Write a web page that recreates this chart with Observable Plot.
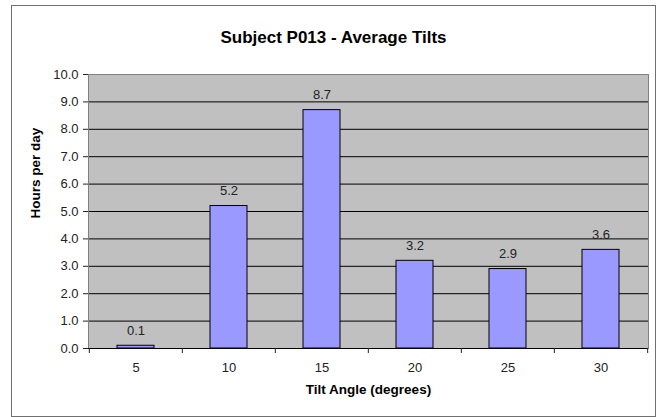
<!DOCTYPE html>
<html><head><meta charset="utf-8">
<script src="https://cdn.jsdelivr.net/npm/d3@7"></script>
<script src="https://cdn.jsdelivr.net/npm/@observablehq/plot@0.6"></script>
<style>
body{margin:0;background:#fff;}
#wrap{position:relative;width:659px;height:417px;}
#border{position:absolute;left:11px;top:5px;width:643px;height:410px;border:1px solid #707070;pointer-events:none;}
svg{position:absolute;left:0;top:0;}
</style></head><body><div id="wrap"><div id="border"></div></div>
<script>
const angles = ["5", "10", "15", "20", "25", "30"];
const hours = [0.1, 5.2, 8.7, 3.2, 2.9, 3.6];
const yTicks = [0, 1, 2, 3, 4, 5, 6, 7, 8, 9, 10];
const gridTicks = [1, 2, 3, 4, 5, 6, 7, 8, 9];
const titleText = "Subject P013 - Average Tilts";
const xTitle = "Tilt Angle (degrees)";
const yTitle = "Hours per day";

const data = angles.map((a, i) => ({angle: a, hours: hours[i]}));
const W = 659, H = 417, mL = 88, mR = 11, mT = 74, mB = 69;
const step = (W - mL - mR) / angles.length;
const font = "Liberation Sans, Arial, sans-serif";

const chart = Plot.plot({
  width: W, height: H,
  marginLeft: mL, marginRight: mR, marginTop: mT, marginBottom: mB,
  style: {fontFamily: font, background: "transparent", color: "#222"},
  x: {type: "band", domain: angles, paddingInner: 0.6, paddingOuter: 0.3, label: null},
  y: {domain: [0, 10], label: null},
  marks: [
    Plot.frame({fill: "#c0c0c0", stroke: "none"}),
    Plot.gridY(gridTicks, {stroke: "#000", strokeOpacity: 1, strokeWidth: 1}),
    Plot.frame({stroke: "#808080"}),
    Plot.barY(data, {x: "angle", y: "hours", fill: "#9999ff", stroke: "#000", strokeWidth: 1}),
    Plot.ruleY([0], {stroke: "#000"}),
    Plot.axisY({ticks: yTicks, tickFormat: d3.format(".1f"), tickSize: 5, tickPadding: 5, fontSize: 13, stroke: "#222", label: null}),
    Plot.axisX({tickSize: 0, tickPadding: 14, fontSize: 13, label: null}),
    Plot.ruleX(angles, {x: d => d, y1: 0, y2: 0, dx: -step / 2, insetBottom: -5, stroke: "#222"}),
    Plot.ruleX(angles.slice(-1), {x: d => d, y1: 0, y2: 0, dx: step / 2, insetBottom: -5, stroke: "#222"}),
    Plot.text(data, {x: "angle", y: "hours", text: d => d3.format(".1f")(d.hours), dy: -15, fontSize: 13, fill: "#222"}),
    Plot.text([titleText], {frameAnchor: "top", dx: -35, dy: -44, fontSize: 17, fontWeight: "bold", fill: "#000"}),
    Plot.text([xTitle], {frameAnchor: "bottom", dy: 45, fontSize: 13.5, fontWeight: "bold", fill: "#000"}),
    Plot.text([yTitle], {frameAnchor: "left", rotate: -90, dx: -53, dy: 7, fontSize: 13.5, fontWeight: "bold", fill: "#000"})
  ]
});
document.getElementById("wrap").appendChild(chart);
</script></body></html>
